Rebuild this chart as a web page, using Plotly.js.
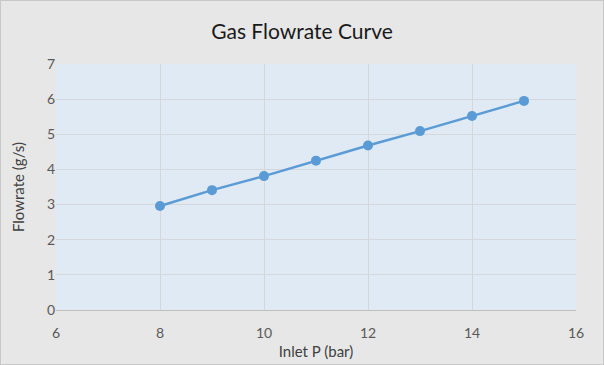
<!DOCTYPE html>
<html><head><meta charset="utf-8">
<script src="https://cdn.plot.ly/plotly-3.0.1.min.js"></script>
<style>html,body{margin:0;padding:0;background:#fff;}#chart{width:602px;height:363px;border:1px solid #c8c8c8;}</style>
</head><body><div id="chart"></div>
<script>
const inletP = [8, 9, 10, 11, 12, 13, 14, 15];
const flowrate = [2.96, 3.41, 3.81, 4.25, 4.68, 5.09, 5.52, 5.95];
const xTicks = [6, 8, 10, 12, 14, 16];
const yTicks = [0, 1, 2, 3, 4, 5, 6, 7];

const trace = {
  x: inletP, y: flowrate, type: 'scatter', mode: 'lines+markers',
  line: {color: '#5b9bd5', width: 2.5},
  marker: {color: '#5b9bd5', size: 10},
  hoverinfo: 'none'
};
const font = {family: 'Lato, "Open Sans", sans-serif', color: '#595959', size: 13};
const layout = {
  width: 602, height: 363,
  margin: {l: 55, r: 27, t: 63, b: 54},
  paper_bgcolor: '#e7e7e7', plot_bgcolor: '#dfeaf5',
  font: font,
  title: {text: 'Gas Flowrate Curve', x: 0.5, xanchor: 'center', yref: 'container', y: 0.915, yanchor: 'middle',
          font: {family: 'Lato, "Open Sans", sans-serif', size: 21, color: '#1a1a1a'}},
  xaxis: {range: [6, 16], tickvals: xTicks, ticktext: xTicks.map(String),
          showgrid: true, gridcolor: '#d4d8dc', gridwidth: 1, zeroline: false,
          showline: true, linecolor: '#bfbfbf', linewidth: 1, ticks: '', ticklen: 0,
          ticklabelstandoff: 10,
          tickfont: {size: 14, color: '#595959'},
          title: {text: 'Inlet P (bar)', font: {size: 15, color: '#404040'}, standoff: 6}},
  yaxis: {range: [0, 7], tickvals: yTicks, ticktext: yTicks.map(String),
          showgrid: true, gridcolor: '#d4d8dc', gridwidth: 1, zeroline: false,
          showline: false, ticks: '', tickfont: {size: 14, color: '#595959'},
          title: {text: 'Flowrate (g/s)', font: {size: 15, color: '#404040'}, standoff: 18}},
  showlegend: false
};
Plotly.newPlot('chart', [trace], layout, {displayModeBar: false, staticPlot: true});
</script></body></html>
